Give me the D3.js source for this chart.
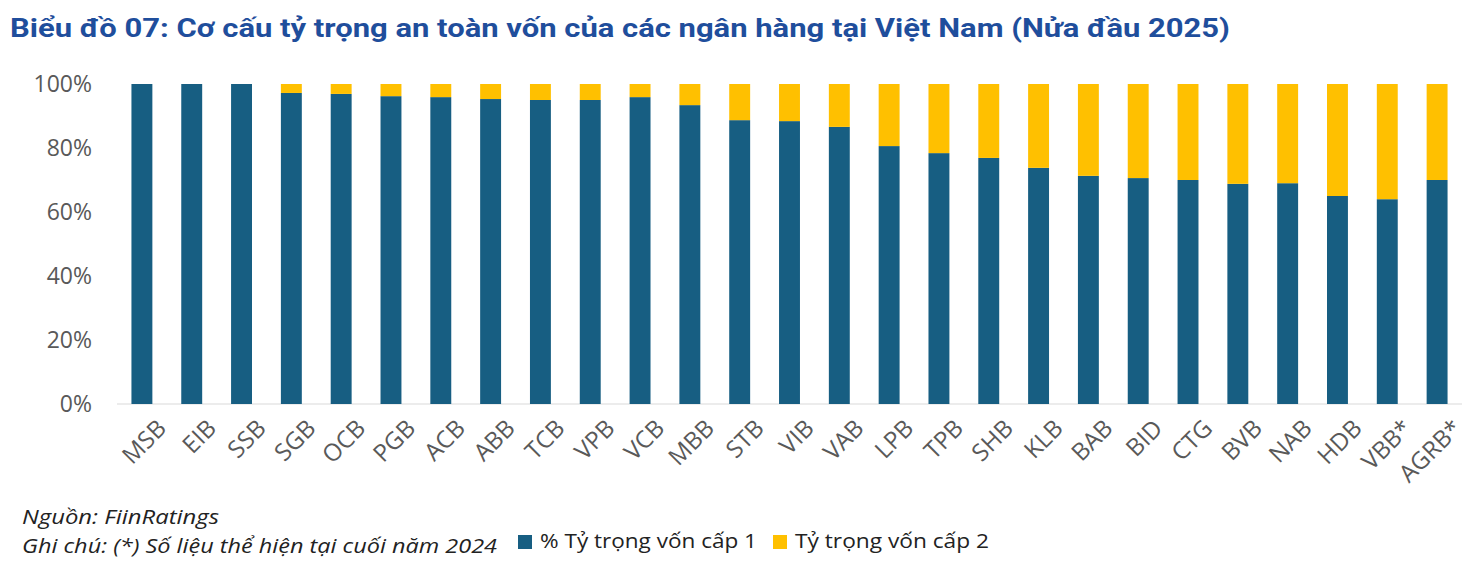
<!DOCTYPE html>
<html><head><meta charset="utf-8">
<script src="https://cdn.jsdelivr.net/npm/d3@7"></script>
<style>body{margin:0;background:#fff;font-family:"Open Sans",Roboto,sans-serif}</style>
</head><body><svg id="c" width="1473" height="568"></svg>
<script>
const categories=["MSB","EIB","SSB","SGB","OCB","PGB","ACB","ABB","TCB","VPB","VCB","MBB","STB","VIB","VAB","LPB","TPB","SHB","KLB","BAB","BID","CTG","BVB","NAB","HDB","VBB*","AGRB*"];
const tier1=[100,100,100,97.2,96.9,96.2,95.9,95.3,95,95,95.9,93.4,88.7,88.4,86.6,80.6,78.4,76.9,73.8,71.3,70.6,70,68.8,69,65,64,70];
const tier2=tier1.map(v=>100-v);
const yTicks=[0,20,40,60,80,100];
const seriesNames=["% Tỷ trọng vốn cấp 1","Tỷ trọng vốn cấp 2"];
const colors=["#175E82","#FFC000"];
const svg=d3.select("#c");
svg.append("text").attr("x",10).attr("y",37).attr("fill","#1F4E9C").attr("font-size",25).attr("font-weight","bold").attr("font-family","Roboto,sans-serif")
 .attr("textLength",1220).attr("lengthAdjust","spacingAndGlyphs")
 .text("Biểu đồ 07: Cơ cấu tỷ trọng an toàn vốn của các ngân hàng tại Việt Nam (Nửa đầu 2025)");
const x=d3.scaleBand().domain(categories).range([117,1462]).paddingInner(0.58).paddingOuter(0.29);
const y=d3.scaleLinear().domain([0,100]).range([404,84]);
const ya=svg.append("g").attr("transform","translate(117,0)").call(d3.axisLeft(y).tickValues(yTicks).tickFormat(d=>d+"%").tickSize(0).tickPadding(25));
ya.select(".domain").remove();
ya.selectAll("text").attr("font-size",23).attr("fill","#595959").attr("font-family","Open Sans,sans-serif");
svg.append("line").attr("x1",117).attr("x2",1462).attr("y1",404).attr("y2",404).attr("stroke","#d9d9d9");
categories.forEach((c,i)=>{
 svg.append("rect").attr("x",x(c)).attr("width",x.bandwidth()).attr("y",y(tier1[i])).attr("height",y(0)-y(tier1[i])).attr("fill",colors[0]);
 svg.append("rect").attr("x",x(c)).attr("width",x.bandwidth()).attr("y",y(100)).attr("height",y(tier1[i])-y(100)).attr("fill",colors[1]);
});
const xa=svg.append("g").attr("transform","translate(0,404)").call(d3.axisBottom(x).tickSize(0).tickPadding(0));
xa.select(".domain").remove();
xa.selectAll("text").attr("font-size",24).attr("fill","#595959").attr("font-family","Open Sans,sans-serif")
 .attr("text-anchor","end").attr("transform","translate(14,14) rotate(-45)").attr("dy","0.7em");
svg.append("text").attr("x",22).attr("y",524).attr("font-size",20).attr("font-style","italic").attr("fill","#222").attr("textLength",197).attr("lengthAdjust","spacingAndGlyphs").text("Nguồn: FiinRatings");
svg.append("text").attr("x",22).attr("y",553).attr("font-size",20).attr("font-style","italic").attr("fill","#222").attr("textLength",475).attr("lengthAdjust","spacingAndGlyphs").text("Ghi chú: (*) Số liệu thể hiện tại cuối năm 2024");
const lx=[518,773], lw=[217,194];
seriesNames.forEach((n,i)=>{
 svg.append("rect").attr("x",lx[i]).attr("y",535).attr("width",14).attr("height",14).attr("fill",colors[i]);
 svg.append("text").attr("x",lx[i]+22).attr("y",548).attr("font-size",20).attr("fill","#222").attr("textLength",lw[i]).attr("lengthAdjust","spacingAndGlyphs").text(n);
});
</script></body></html>
